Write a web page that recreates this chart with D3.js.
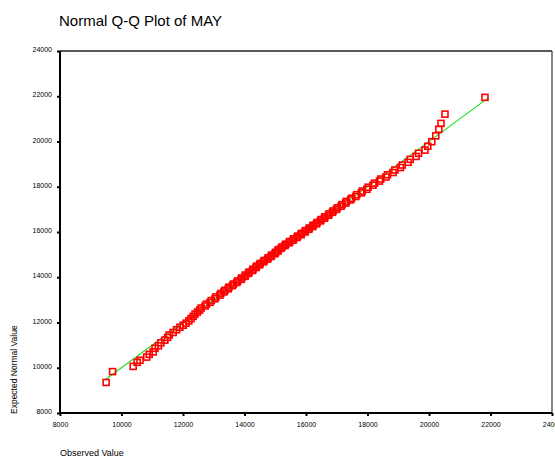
<!DOCTYPE html>
<html>
<head>
<meta charset="utf-8">
<script src="https://cdn.jsdelivr.net/npm/d3@7"></script>
<style>
  html, body { margin: 0; padding: 0; background: #fff; }
  svg { display: block; }
  text { font-family: "Liberation Sans", Arial, sans-serif; fill: #000; }
</style>
</head>
<body>
<script>
// Normal Q-Q plot of MAY: observed values against expected normal quantiles
const observed = [
  9500, 9710, 10380, 10510, 10600, 10820, 10900, 11030, 11090, 11200,
  11280, 11410, 11500, 11550, 11680, 11790, 11900, 12010, 12100, 12190,
  12260, 12330, 12390, 12470, 12540, 12590, 12720, 12760, 12880, 12920,
  13040, 13070, 13200, 13230, 13330, 13360, 13470, 13490, 13610, 13640,
  13750, 13780, 13890, 13910, 14020, 14030, 14130, 14150, 14260, 14280,
  14380, 14390, 14490, 14510, 14620, 14640, 14750, 14770, 14870, 14880,
  14990, 15010, 15090, 15100, 15190, 15220, 15320, 15340, 15450, 15470,
  15580, 15600, 15710, 15730, 15840, 15850, 15970, 15980, 16090, 16110,
  16220, 16230, 16340, 16360, 16470, 16490, 16600, 16610, 16730, 16750,
  16860, 16880, 16990, 17020, 17140, 17170, 17290, 17310, 17450, 17480,
  17620, 17650, 17800, 17830, 17980, 18020, 18180, 18230, 18390, 18430,
  18600, 18650, 18830, 18890, 19070, 19130, 19320, 19390, 19580, 19660,
  19870, 19960, 20090, 20220, 20320, 20390, 20520, 21820
];
const expected = [
  9350, 9830, 10060, 10240, 10330, 10470, 10590, 10700, 10860, 10970,
  11100, 11220, 11340, 11450, 11560, 11680, 11790, 11880, 11970, 12070,
  12170, 12270, 12370, 12460, 12550, 12640, 12730, 12810, 12890, 12970,
  13050, 13130, 13210, 13280, 13350, 13420, 13490, 13560, 13630, 13700,
  13770, 13840, 13910, 13970, 14040, 14100, 14170, 14230, 14300, 14360,
  14430, 14490, 14550, 14610, 14680, 14740, 14800, 14860, 14920, 14980,
  15040, 15100, 15160, 15220, 15280, 15340, 15400, 15460, 15520, 15580,
  15640, 15700, 15760, 15820, 15880, 15940, 16000, 16060, 16120, 16180,
  16240, 16300, 16360, 16420, 16490, 16550, 16610, 16670, 16740, 16800,
  16870, 16930, 17000, 17070, 17140, 17210, 17280, 17350, 17420, 17490,
  17570, 17650, 17730, 17810, 17890, 17980, 18070, 18160, 18250, 18340,
  18430, 18530, 18630, 18740, 18850, 18960, 19080, 19210, 19340, 19480,
  19620, 19790, 19990, 20250, 20540, 20800, 21210, 21950
];
// reference line endpoints (expected = observed)
const refLine = [9500, 21950];
const xTicks = [8000, 10000, 12000, 14000, 16000, 18000, 20000, 22000, 24000];
const yTicks = [8000, 10000, 12000, 14000, 16000, 18000, 20000, 22000, 24000];

const W = 555, H = 457;
const plotL = 60, plotR = 552, plotT = 51, plotB = 413;

const svg = d3.select("body").append("svg").attr("width", W).attr("height", H);

const x = d3.scaleLinear().domain([8000, 24000]).range([plotL, plotR]);
const y = d3.scaleLinear().domain([8000, 24000]).range([plotB, plotT]);

// title
svg.append("text").attr("x", 59).attr("y", 26)
  .attr("font-size", 15).text("Normal Q-Q Plot of MAY");

// axes
const fmt = d3.format("d");
const gx = svg.append("g").attr("transform", `translate(0,${plotB})`)
  .call(d3.axisBottom(x).tickValues(xTicks).tickSize(3).tickPadding(6).tickFormat(fmt));
const gy = svg.append("g").attr("transform", `translate(${plotL},0)`)
  .call(d3.axisLeft(y).tickValues(yTicks).tickSize(3).tickPadding(5).tickFormat(fmt));
[gx, gy].forEach(g => {
  g.select(".domain").remove();
  g.selectAll(".tick line").attr("stroke", "#000").attr("stroke-width", 2);
  g.selectAll(".tick text").attr("font-size", 7).attr("font-family", "Liberation Sans, Arial, sans-serif").attr("fill", "#000");
});
gy.selectAll(".tick text").attr("dy", "0.1em");

// plot frame
svg.append("line").attr("x1", plotL).attr("x2", plotR).attr("y1", plotT).attr("y2", plotT)
  .attr("stroke", "#222").attr("stroke-width", 1.5);
svg.append("line").attr("x1", plotR).attr("x2", plotR).attr("y1", plotT).attr("y2", plotB)
  .attr("stroke", "#333").attr("stroke-width", 1.2);
svg.append("line").attr("x1", plotL).attr("x2", plotL).attr("y1", plotT).attr("y2", plotB + 1)
  .attr("stroke", "#000").attr("stroke-width", 2);
svg.append("line").attr("x1", plotL).attr("x2", plotR).attr("y1", plotB).attr("y2", plotB)
  .attr("stroke", "#000").attr("stroke-width", 2);

// axis titles
svg.append("text").attr("transform", `translate(17,${plotB + 1}) rotate(-90)`)
  .attr("font-size", 8.5).text("Expected Normal Value");
svg.append("text").attr("x", 60).attr("y", 456)
  .attr("font-size", 9).text("Observed Value");

// reference line
svg.append("line")
  .attr("x1", x(refLine[0])).attr("y1", y(refLine[0]))
  .attr("x2", x(refLine[1])).attr("y2", y(refLine[1]))
  .attr("stroke", "#22dd22").attr("stroke-width", 1.2);

// points
const pts = observed.map((o, i) => ({ o, e: expected[i] }));
const s = 6;
svg.append("g").selectAll("rect").data(pts).join("rect")
  .attr("x", d => x(d.o) - s / 2).attr("y", d => y(d.e) - s / 2)
  .attr("width", s).attr("height", s)
  .attr("fill", "none")
  .attr("stroke", "#ff0000").attr("stroke-width", 1.6);
</script>
</body>
</html>
